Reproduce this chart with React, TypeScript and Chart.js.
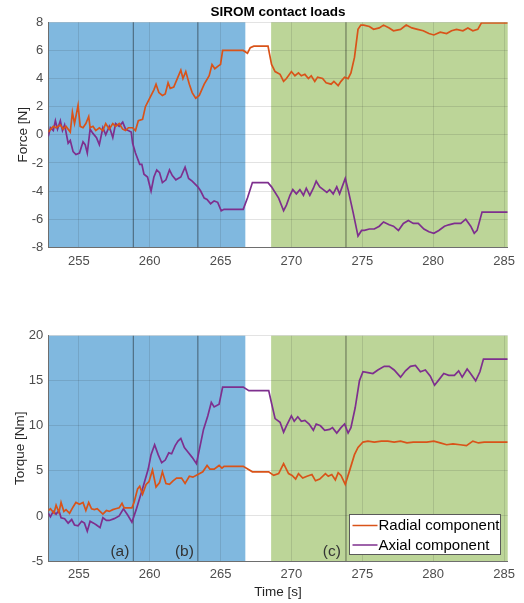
import React, { useEffect, useRef } from 'react';
import { Chart, registerables } from 'chart.js';
Chart.register(...registerables);

const X_MIN = 252.85;
const X_MAX = 285.26;
const xTickValues = [255, 260, 265, 270, 275, 280, 285];
const forceTicks = [-8, -6, -4, -2, 0, 2, 4, 6, 8];
const torqueTicks = [-5, 0, 5, 10, 15, 20];

const phaseBlue = [252.85, 266.75];
const phaseGreen = [268.57, 285.26];
const eventLines = [258.85, 263.4, 273.85];
const phaseLabels = ['(a)', '(b)', '(c)'];
const phaseLabelX = [257.9, 262.45, 272.85];
const phaseLabelY = -4.0;

const seriesNames = ['Radial component', 'Axial component'];
const RADIAL = '#D95319';
const AXIAL = '#7E2F8E';

// Force, radial component
const forceRadialT = [252.85, 253.2, 253.4, 253.7, 253.9, 254.1, 254.4, 254.55, 254.7, 254.95, 255.1, 255.3, 255.5, 255.7, 255.8, 256.0, 256.2, 256.45, 256.7, 256.9, 257.15, 257.4, 257.6, 257.85, 258.1, 258.3, 258.5, 258.8, 259.0, 259.2, 259.5, 259.7, 260.05, 260.3, 260.45, 260.65, 260.9, 261.1, 261.3, 261.45, 261.7, 261.95, 262.2, 262.35, 262.55, 262.8, 263.0, 263.25, 263.5, 263.85, 264.2, 264.4, 264.6, 264.85, 265.0, 265.15, 266.6, 266.9, 267.1, 267.35, 268.35, 268.6, 268.85, 269.2, 269.45, 269.65, 270.0, 270.25, 270.5, 270.7, 270.95, 271.2, 271.4, 271.65, 271.85, 272.2, 272.45, 272.8, 273.0, 273.3, 273.5, 273.75, 274.0, 274.2, 274.45, 274.7, 274.9, 275.1, 275.5, 275.8, 276.2, 276.5, 276.9, 277.2, 277.7, 278.1, 278.5, 278.9, 279.3, 279.7, 280.05, 280.5, 280.95, 281.3, 281.65, 282.1, 282.45, 282.8, 283.15, 283.4, 285.26];
const forceRadialV = [0.2, 0.6, 0.5, 0.7, 0.4, 0.6, 0.2, 1.6, 0.8, 2.1, 0.6, 0.5, 0.8, 1.3, 0.5, 0.6, 0.3, 0.5, 0.3, 0.8, 0.4, 0.8, 0.6, 0.8, 0.4, 0.3, 0.5, 0.5, 0.3, 1.0, 1.1, 2.0, 2.7, 3.2, 3.6, 3.0, 2.8, 2.9, 3.7, 3.3, 3.4, 4.0, 4.6, 4.0, 4.5, 3.6, 3.0, 2.6, 2.8, 3.6, 4.2, 5.0, 4.7, 4.9, 5.0, 6.0, 6.0, 5.8, 6.2, 6.3, 6.3, 5.0, 4.5, 4.3, 3.8, 4.0, 4.5, 4.2, 4.4, 4.2, 4.3, 4.0, 4.2, 3.8, 4.1, 4.0, 3.7, 3.6, 3.8, 3.5, 3.8, 4.1, 4.0, 4.4, 5.5, 7.5, 7.8, 7.8, 7.7, 7.5, 7.6, 7.8, 7.6, 7.4, 7.5, 7.8, 7.6, 7.5, 7.4, 7.2, 7.1, 7.3, 7.2, 7.4, 7.5, 7.4, 7.6, 7.4, 7.5, 7.95, 7.95];

// Force, axial component
const forceAxialT = [252.85, 253.0, 253.2, 253.35, 253.5, 253.7, 253.85, 254.0, 254.25, 254.4, 254.6, 254.8, 255.05, 255.3, 255.45, 255.6, 255.8, 256.0, 256.25, 256.45, 256.7, 256.9, 257.15, 257.4, 257.6, 257.85, 258.1, 258.3, 258.7, 258.8, 259.0, 259.3, 259.45, 259.6, 259.85, 260.1, 260.3, 260.5, 260.7, 260.9, 261.15, 261.4, 261.6, 261.85, 262.2, 262.5, 262.75, 263.0, 263.4, 263.6, 263.85, 264.05, 264.3, 264.55, 264.8, 265.05, 265.25, 266.6, 266.9, 267.25, 268.35, 268.6, 269.1, 269.45, 269.65, 269.9, 270.1, 270.35, 270.6, 270.85, 271.05, 271.3, 271.55, 271.75, 272.0, 272.25, 272.5, 272.7, 272.95, 273.2, 273.4, 273.8, 274.0, 274.35, 274.7, 274.95, 275.15, 275.5, 275.85, 276.2, 276.5, 276.9, 277.2, 277.55, 277.9, 278.25, 278.6, 278.95, 279.35, 279.7, 280.05, 280.4, 280.8, 281.1, 281.5, 281.95, 282.3, 282.65, 282.9, 283.1, 283.45, 285.26];
const forceAxialV = [-0.1, 0.5, 0.3, 1.0, 0.4, 1.0, 0.3, 0.7, -0.6, -0.4, -1.2, -1.4, -1.3, -0.5, -0.7, -1.3, 0.4, 0.1, -0.2, -0.7, 0.5, 0.0, 0.6, -0.2, 0.8, 0.6, 0.9, 0.4, 0.2, -0.6, -1.3, -2.1, -2.1, -2.8, -3.0, -4.0, -3.0, -2.5, -2.7, -3.4, -3.2, -2.5, -2.9, -3.2, -3.0, -2.3, -3.1, -3.3, -3.7, -4.0, -4.5, -4.6, -4.9, -4.7, -4.8, -5.4, -5.3, -5.3, -4.5, -3.4, -3.4, -3.7, -4.5, -5.4, -5.0, -4.3, -3.9, -4.2, -3.9, -4.3, -3.8, -4.3, -3.8, -3.3, -3.7, -3.9, -4.1, -3.9, -4.2, -3.7, -4.2, -3.1, -3.9, -5.5, -7.2, -6.8, -6.8, -6.7, -6.7, -6.5, -6.2, -6.4, -6.5, -6.8, -6.3, -6.1, -6.3, -6.3, -6.7, -6.9, -7.0, -6.8, -6.5, -6.4, -6.3, -6.3, -6.0, -6.5, -7.0, -6.8, -5.5, -5.5];

// Torque, radial component
const torqueRadialT = [252.85, 253.0, 253.25, 253.4, 253.6, 253.75, 253.95, 254.1, 254.35, 254.6, 254.8, 255.05, 255.3, 255.5, 255.7, 255.9, 256.1, 256.3, 256.5, 256.7, 256.95, 257.15, 257.4, 257.6, 257.85, 258.05, 258.2, 258.45, 258.75, 258.9, 259.15, 259.3, 259.5, 259.75, 259.95, 260.2, 260.45, 260.7, 260.9, 261.15, 261.4, 261.65, 261.9, 262.25, 262.5, 262.8, 263.05, 263.4, 263.75, 264.05, 264.25, 264.55, 264.9, 265.1, 265.25, 266.6, 267.25, 268.4, 268.75, 269.1, 269.45, 269.8, 270.05, 270.3, 270.5, 270.8, 271.1, 271.45, 271.7, 272.0, 272.4, 272.6, 272.85, 273.1, 273.3, 273.5, 273.8, 274.1, 274.45, 274.7, 275.05, 275.4, 275.85, 276.35, 276.8, 277.25, 277.7, 278.15, 278.6, 279.1, 279.55, 280.05, 280.5, 280.95, 281.4, 281.9, 282.35, 282.8, 283.2, 283.6, 285.26];
const torqueRadialV = [0.6, 0.8, 0.3, 1.2, 0.4, 1.5, 0.5, 0.7, 0.3, 1.0, 1.5, 1.3, 1.5, 0.6, 1.5, 0.8, 0.7, 0.8, 0.5, 0.2, 0.6, 0.5, 0.7, 0.8, 0.9, 1.4, 0.9, 0.9, 0.9, 1.5, 3.0, 3.3, 2.4, 3.5, 3.8, 5.1, 3.2, 3.7, 4.9, 3.6, 3.5, 3.9, 4.2, 4.2, 3.6, 4.4, 4.3, 4.6, 4.9, 5.6, 5.2, 5.2, 5.6, 5.3, 5.5, 5.5, 4.9, 4.9, 4.5, 4.7, 5.8, 4.7, 4.5, 4.1, 4.7, 4.2, 4.4, 4.6, 3.9, 4.1, 4.7, 4.4, 4.6, 4.0, 4.8, 4.5, 3.5, 5.0, 6.8, 7.6, 8.2, 8.3, 8.2, 8.3, 8.3, 8.2, 8.3, 8.1, 8.2, 8.2, 8.2, 8.3, 8.1, 7.9, 8.0, 7.9, 7.8, 8.3, 8.1, 8.2, 8.2];

// Torque, axial component
const torqueAxialT = [252.85, 253.0, 253.2, 253.4, 253.6, 253.75, 254.0, 254.25, 254.5, 254.7, 254.95, 255.2, 255.4, 255.6, 255.8, 256.05, 256.25, 256.5, 256.7, 256.95, 257.15, 257.5, 257.85, 258.15, 258.45, 258.75, 259.05, 259.3, 259.55, 259.9, 260.1, 260.35, 260.6, 260.85, 261.1, 261.35, 261.55, 261.8, 262.0, 262.2, 262.45, 262.7, 263.0, 263.3, 263.55, 263.8, 264.1, 264.35, 264.55, 264.9, 265.15, 266.6, 267.0, 268.4, 268.6, 268.85, 269.2, 269.45, 269.65, 270.0, 270.2, 270.45, 270.7, 270.95, 271.25, 271.55, 271.75, 272.05, 272.35, 272.7, 272.9, 273.2, 273.5, 273.75, 274.0, 274.2, 274.5, 274.8, 275.05, 275.4, 275.75, 276.1, 276.55, 276.9, 277.25, 277.7, 278.05, 278.4, 278.75, 279.1, 279.45, 279.8, 280.1, 280.4, 280.75, 281.1, 281.5, 281.8, 282.05, 282.4, 282.6, 283.0, 283.3, 283.55, 285.26];
const torqueAxialV = [0.3, -0.1, 0.5, 0.2, 0.6, -0.2, -0.3, -0.8, -0.4, -1.0, -1.1, -0.6, -0.8, -1.7, -0.6, -0.8, -1.0, -1.3, -0.2, -0.5, -0.5, -0.3, 0.0, 0.8, 0.1, -0.7, 0.7, 2.0, 3.3, 5.2, 6.8, 7.9, 6.8, 5.9, 6.2, 7.0, 6.9, 7.8, 8.3, 8.6, 7.6, 7.1, 6.5, 5.8, 7.7, 9.6, 11.1, 12.6, 12.1, 12.4, 14.3, 14.3, 13.9, 13.9, 12.5, 10.8, 10.4, 9.3, 10.0, 11.1, 10.5, 11.0, 10.5, 10.6, 10.2, 9.5, 10.2, 10.0, 9.5, 9.6, 9.8, 9.2, 9.8, 10.2, 9.2, 9.8, 12.0, 15.0, 16.0, 15.9, 15.8, 16.2, 16.6, 16.6, 16.2, 15.4, 16.1, 16.6, 16.7, 16.0, 16.2, 15.5, 14.5, 15.1, 15.8, 15.6, 15.6, 16.1, 15.4, 16.3, 15.9, 15.0, 16.0, 17.4, 17.4];

const BLUE_PATCH = 'rgb(128,184,223)';
const GREEN_PATCH = 'rgb(188,213,152)';
const FONT = '"Liberation Sans", Arial, Helvetica, sans-serif';

const zip = (t: number[], v: number[]) => t.map((x, i) => ({ x, y: v[i] }));

const decorPlugin = {
  id: 'decor',
  beforeDraw(chart: any) {
    const { ctx, chartArea: a, scales } = chart;
    const x = scales.x;
    ctx.save();
    const patch = (r: number[], color: string) => {
      const p0 = Math.max(a.left, x.getPixelForValue(r[0]));
      const p1 = Math.min(a.right, x.getPixelForValue(r[1]));
      ctx.fillStyle = color;
      ctx.fillRect(p0, a.top, p1 - p0, a.bottom - a.top);
    };
    patch(phaseBlue, BLUE_PATCH);
    patch(phaseGreen, GREEN_PATCH);
    ctx.restore();
  },
  beforeDatasetsDraw(chart: any) {
    const { ctx, chartArea: a, scales } = chart;
    ctx.save();
    ctx.strokeStyle = 'rgba(20,20,20,0.45)';
    ctx.lineWidth = 1.2;
    eventLines.forEach((v) => {
      const px = scales.x.getPixelForValue(v);
      ctx.beginPath();
      ctx.moveTo(px, a.top);
      ctx.lineTo(px, a.bottom);
      ctx.stroke();
    });
    ctx.restore();
  },
  afterDraw(chart: any, _args: any, opts: any) {
    const { ctx, chartArea: a, scales } = chart;
    ctx.save();
    if (opts.title) {
      ctx.fillStyle = '#000';
      ctx.font = `bold 13.5px ${FONT}`;
      ctx.textAlign = 'center';
      ctx.textBaseline = 'middle';
      ctx.fillText(opts.title, (a.left + a.right) / 2, 12.5);
    }
    if (opts.phaseLabels) {
      ctx.fillStyle = '#333';
      ctx.font = `15.5px ${FONT}`;
      ctx.textAlign = 'center';
      ctx.textBaseline = 'middle';
      phaseLabels.forEach((t, i) => {
        ctx.fillText(t, scales.x.getPixelForValue(phaseLabelX[i]), scales.y.getPixelForValue(phaseLabelY));
      });
    }
    if (opts.legend) {
      const bx = 349.5, by = 224.5, bw = 151, bh = 40;
      ctx.fillStyle = '#fff';
      ctx.fillRect(bx, by, bw, bh);
      ctx.strokeStyle = '#5a5a5a';
      ctx.lineWidth = 1;
      ctx.strokeRect(bx, by, bw, bh);
      ctx.font = `15px ${FONT}`;
      ctx.textAlign = 'left';
      ctx.textBaseline = 'middle';
      chart.data.datasets.forEach((ds: any, i: number) => {
        const yy = by + 11 + i * 19.5;
        ctx.strokeStyle = ds.borderColor;
        ctx.lineWidth = 1.5;
        ctx.beginPath();
        ctx.moveTo(bx + 3, yy);
        ctx.lineTo(bx + 28, yy);
        ctx.stroke();
        ctx.fillStyle = '#000';
        ctx.fillText(ds.label, bx + 29, yy + 0.5);
      });
    }
    ctx.restore();
  },
};

function makeConfig(opts: {
  radial: { x: number; y: number }[];
  axial: { x: number; y: number }[];
  yMin: number;
  yMax: number;
  yStep: number;
  yTitle: string;
  yTitlePad: number;
  xTitle?: string;
  padTop: number;
  xAxisHeight: number;
  decor: any;
}) {
  const tickFont = { family: FONT, size: 13 };
  return {
    type: 'line' as const,
    data: {
      datasets: [
        { label: seriesNames[0], data: opts.radial, borderColor: RADIAL, borderWidth: 1.7, pointRadius: 0, tension: 0 },
        { label: seriesNames[1], data: opts.axial, borderColor: AXIAL, borderWidth: 1.7, pointRadius: 0, tension: 0 },
      ],
    },
    options: {
      responsive: false,
      animation: false as const,
      events: [],
      layout: { padding: { top: opts.padTop, right: 16.3, left: 0, bottom: 0 } },
      plugins: {
        legend: { display: false },
        tooltip: { enabled: false },
        title: { display: false },
        decor: opts.decor,
      },
      scales: {
        x: {
          type: 'linear' as const,
          min: X_MIN,
          max: X_MAX,
          afterBuildTicks: (s: any) => {
            s.ticks = xTickValues.map((v) => ({ value: v }));
          },
          afterFit: (s: any) => {
            s.height = opts.xAxisHeight;
          },
          ticks: { font: tickFont, color: '#4d4d4d', padding: 6, maxRotation: 0, autoSkip: false, includeBounds: false },
          grid: { color: 'rgba(38,38,38,0.13)', drawTicks: false },
          border: { display: true, color: '#6e6e6e', width: 1 },
          title: opts.xTitle
            ? { display: true, text: opts.xTitle, font: { family: FONT, size: 13.5 }, color: '#262626', padding: { top: 0, bottom: 3 } }
            : { display: false },
        },
        y: {
          type: 'linear' as const,
          min: opts.yMin,
          max: opts.yMax,
          ticks: { stepSize: opts.yStep, font: tickFont, color: '#4d4d4d', padding: 5 },
          afterFit: (s: any) => {
            s.width = 48.3;
          },
          grid: { color: 'rgba(38,38,38,0.13)', drawTicks: false },
          border: { display: true, color: '#6e6e6e', width: 1 },
          title: { display: true, text: opts.yTitle, font: { family: FONT, size: 13.5 }, color: '#262626', padding: { top: opts.yTitlePad, bottom: 0 } },
        },
      },
    },
    plugins: [decorPlugin],
  };
}

export default function App() {
  const topRef = useRef<HTMLCanvasElement>(null);
  const botRef = useRef<HTMLCanvasElement>(null);

  useEffect(() => {
    const top = new Chart(
      topRef.current!,
      makeConfig({
        radial: zip(forceRadialT, forceRadialV),
        axial: zip(forceAxialT, forceAxialV),
        yMin: forceTicks[0],
        yMax: forceTicks[forceTicks.length - 1],
        yStep: 2,
        yTitle: 'Force [N]',
        yTitlePad: 15,
        padTop: 22.3,
        xAxisHeight: 290 - 247.3,
        decor: { title: 'SIROM contact loads' },
      }) as any
    );
    const bot = new Chart(
      botRef.current!,
      makeConfig({
        radial: zip(torqueRadialT, torqueRadialV),
        axial: zip(torqueAxialT, torqueAxialV),
        yMin: torqueTicks[0],
        yMax: torqueTicks[torqueTicks.length - 1],
        yStep: 5,
        yTitle: 'Torque [Nm]',
        yTitlePad: 12,
        xTitle: 'Time [s]',
        padTop: 45.7,
        xAxisHeight: 42,
        decor: { phaseLabels: true, legend: true },
      }) as any
    );
    return () => {
      top.destroy();
      bot.destroy();
    };
  }, []);

  return (
    <div style={{ position: 'fixed', left: 0, top: 0, width: 524, height: 603, background: '#fff' }}>
      <canvas ref={topRef} width={524} height={290} style={{ position: 'absolute', left: 0, top: 0 }} />
      <canvas ref={botRef} width={524} height={313} style={{ position: 'absolute', left: 0, top: 290 }} />
    </div>
  );
}
